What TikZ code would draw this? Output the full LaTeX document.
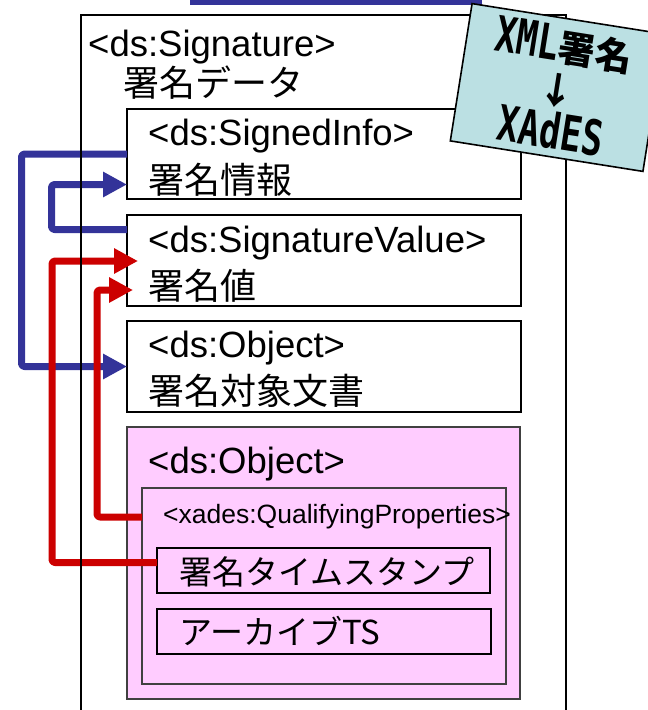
\documentclass[tikz,border=0pt]{standalone}
\usepackage{fontspec}
\setmainfont{Liberation Sans}
\newfontfamily\jp{Noto Sans CJK JP}
\newfontfamily\monob[FakeStretch=0.72]{DejaVu Sans Mono}
\usetikzlibrary{arrows.meta}
\definecolor{sigblue}{HTML}{333399}
\definecolor{sigred}{HTML}{CC0000}
\definecolor{sigpink}{HTML}{FFCCFF}
\definecolor{sigcyan}{HTML}{BBE0E3}
\begin{document}
\begin{tikzpicture}[x=1pt,y=-1pt,
  box/.style={draw=black, line width=2pt, anchor=north west, inner sep=0pt, outer sep=0pt},
  pbox/.style={draw=black!75, fill=sigpink, line width=1.6pt, anchor=north west, inner sep=0pt, outer sep=0pt},
  lat/.style={anchor=base west, inner sep=0pt, font=\fontsize{36.5}{40}\selectfont},
  jpt/.style={anchor=west, inner sep=0pt, font=\fontsize{36}{40}\selectfont\jp},
  jps/.style={anchor=west, inner sep=0pt, font=\fontsize{33}{36}\selectfont\jp},
  conn/.style={line width=7pt, rounded corners=3pt, line join=round, -{Triangle[length=24pt,width=24pt]}}
]
\clip (0,0) rectangle (648,710);
\fill[white] (0,0) rectangle (648,710);

% boxes
\node[box, minimum width=394pt, minimum height=90pt] (si) at (127,109) {};
\node[box, minimum width=394pt, minimum height=91pt] (sv) at (127,215) {};
\node[box, minimum width=394pt, minimum height=91pt] (ob) at (127,321) {};
\node[pbox, minimum width=393pt, minimum height=272pt] (op) at (127,427) {};
\node[pbox, minimum width=364pt, minimum height=196pt] (qp) at (142,488) {};
\node[box, fill=sigpink, minimum width=333pt, minimum height=45pt] (ts) at (157,548) {};
\node[box, fill=sigpink, minimum width=334pt, minimum height=45pt] (ar) at (157,609) {};

% texts
\node[lat] (tsig) at (88,56) {<ds:Signature>};
\node[jpt] (tsigj) at (123,83) {署名データ};
\node[lat] (tsi) at (148,145) {<ds:SignedInfo>};
\node[jpt] (tsij) at (148,180) {署名情報};
\node[lat] (tsv) at (148,252) {<ds:SignatureValue>};
\node[jpt] (tsvj) at (148,286) {署名値};
\node[lat] (tob) at (148,357) {<ds:Object>};
\node[jpt] (tobj) at (148,391) {署名対象文書};
\node[lat] (top) at (148,473) {<ds:Object>};
\node[lat, font=\fontsize{26.5}{30}\selectfont] (tqp) at (163,523) {<xades:QualifyingProperties>};
\node[jps] (tts) at (179,572) {署名タイムスタンプ};
\node[jps] (tar) at (179,631) {アーカイブTS};

% connector helper coordinates
\coordinate (bx) at (21.5,0);
\coordinate (bx2) at (51.5,0);
\coordinate (rx1) at (52,0);
\coordinate (rx2) at (97,0);
\coordinate (a1) at ([yshift=-14.5pt]sv.north west);
\coordinate (a2) at ([yshift=14.5pt]si.south west);
\coordinate (r1) at ([yshift=8pt]ts.west);
\coordinate (r1e) at ([xshift=11pt,yshift=-46pt]sv.north west);
\coordinate (r2) at ([yshift=-29pt]qp.north west);
\coordinate (r2e) at ([xshift=6pt,yshift=-75pt]sv.north west);

% blue connectors
\draw[conn, sigblue] (si.west) -- (si.west -| bx) -- (ob.west -| bx) -- (ob.west);
\draw[conn, sigblue] (a1) -- (a1 -| bx2) -- (a2 -| bx2) -- (a2);
% red connectors
\draw[conn, sigred] (r1) -- (r1 -| rx1) -- (r1e -| rx1) -- (r1e);
\draw[conn, sigred] (r2) -- (r2 -| rx2) -- (r2e -| rx2) -- (r2e);

% outer signature box (open at the bottom of the picture)
\node[box, line width=2pt, minimum width=485pt, minimum height=715pt] (sig) at (81,15) {};

% blue bar at top
\fill[sigblue] (190,0) rectangle (482,5);

% XML -> XAdES label
\node[draw=black, line width=1.6pt, fill=sigcyan, minimum width=195pt, minimum height=139pt,
      inner sep=0pt, rotate=-9] (xb) at (557.5,87.5) {};
\node[rotate=-9, align=center, inner sep=0pt, font=\fontsize{37}{44}\selectfont] (xt) at (xb.center)
  {{\fontsize{49}{44}\selectfont\monob\bfseries XML}{\jp\bfseries 署名}\\
   {\jp\bfseries ↓}\\
   {\fontsize{49}{44}\selectfont\monob\bfseries XAdES}};
\end{tikzpicture}
\end{document}
